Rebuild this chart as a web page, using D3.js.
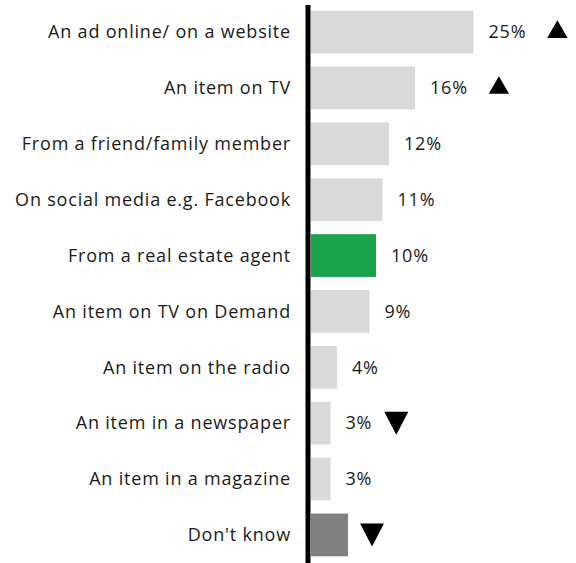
<!DOCTYPE html>
<html>
<head>
<meta charset="utf-8">
<script src="https://cdn.jsdelivr.net/npm/d3@7"></script>
<style>
  html, body { margin: 0; padding: 0; background: #fff; }
  svg { display: block; font-family: "Open Sans", "Noto Sans", sans-serif; }
</style>
</head>
<body>
<svg id="chart" width="576" height="563"></svg>
<script>
// Where people heard about it (share of respondents)
const categories = [
  "An ad online/ on a website",
  "An item on TV",
  "From a friend/family member",
  "On social media e.g. Facebook",
  "From a real estate agent",
  "An item on TV on Demand",
  "An item on the radio",
  "An item in a newspaper",
  "An item in a magazine",
  "Don't know"
];
const values = [25, 16, 12, 11, 10, 9, 4, 3, 3, 5.7];
const valueLabels = ["25%", "16%", "12%", "11%", "10%", "9%", "4%", "3%", "3%", ""];
// significant change vs. previous wave: "up", "down" or null
const changes = ["up", "up", null, null, null, null, null, "down", null, "down"];
const barKinds = ["base", "base", "base", "base", "highlight", "base", "base", "base", "base", "unknown"];

const colors = { base: "#d9d9d9", highlight: "#1aa34a", unknown: "#808080" };

const svg = d3.select("#chart");
const axisX = 308;

const x = d3.scaleLinear().domain([0, 40]).range([axisX + 3, 571]);
const y = d3.scaleBand().domain(categories).range([4, 563]).paddingInner(0.235).paddingOuter(0.12);

const rows = categories.map((c, i) => ({
  cat: c, value: values[i], label: valueLabels[i], change: changes[i], kind: barKinds[i]
}));

// bars
svg.append("g").selectAll("rect").data(rows).join("rect")
  .attr("x", x(0))
  .attr("y", d => y(d.cat))
  .attr("width", d => x(d.value) - x(0))
  .attr("height", y.bandwidth())
  .attr("fill", d => colors[d.kind]);

// category labels
svg.append("g").selectAll("text").data(rows).join("text")
  .attr("x", 291)
  .attr("y", d => y(d.cat) + y.bandwidth() / 2)
  .attr("dy", "0.35em")
  .attr("text-anchor", "end")
  .attr("font-size", 18)
  .attr("letter-spacing", "0.8px")
  .attr("fill", "#1a1a1a")
  .text(d => d.cat);

// value labels
const vl = svg.append("g").selectAll("text").data(rows).join("text")
  .attr("x", d => x(d.value) + 15)
  .attr("y", d => y(d.cat) + y.bandwidth() / 2)
  .attr("dy", "0.35em")
  .attr("font-size", 18)
  .attr("letter-spacing", "0.8px")
  .attr("fill", "#1a1a1a")
  .text(d => d.label);

// change markers placed after the value label (or bar end)
const ends = vl.nodes().map((n, i) => {
  const d = rows[i];
  return d.label ? n.getComputedTextLength() + x(d.value) + 15 : x(d.value);
});
svg.append("g").selectAll("path").data(rows.map((d, i) => ({ ...d, end: ends[i] })).filter(d => d.change))
  .join("path")
  .attr("transform", d => {
    const cx = d.end + (d.change === "up" ? 31 : 24);
    const cy = y(d.cat) + y.bandwidth() / 2;
    return `translate(${cx},${cy})`;
  })
  .attr("d", d => d.change === "up"
    ? d3.symbol(d3.symbolTriangle, 180)()
    : "M-12,-11.5L12,-11.5L0,11.5Z")
  .attr("fill", "#000");

// vertical baseline
svg.append("line")
  .attr("x1", axisX).attr("x2", axisX)
  .attr("y1", 5).attr("y2", 563)
  .attr("stroke", "#000").attr("stroke-width", 5);
</script>
</body>
</html>
